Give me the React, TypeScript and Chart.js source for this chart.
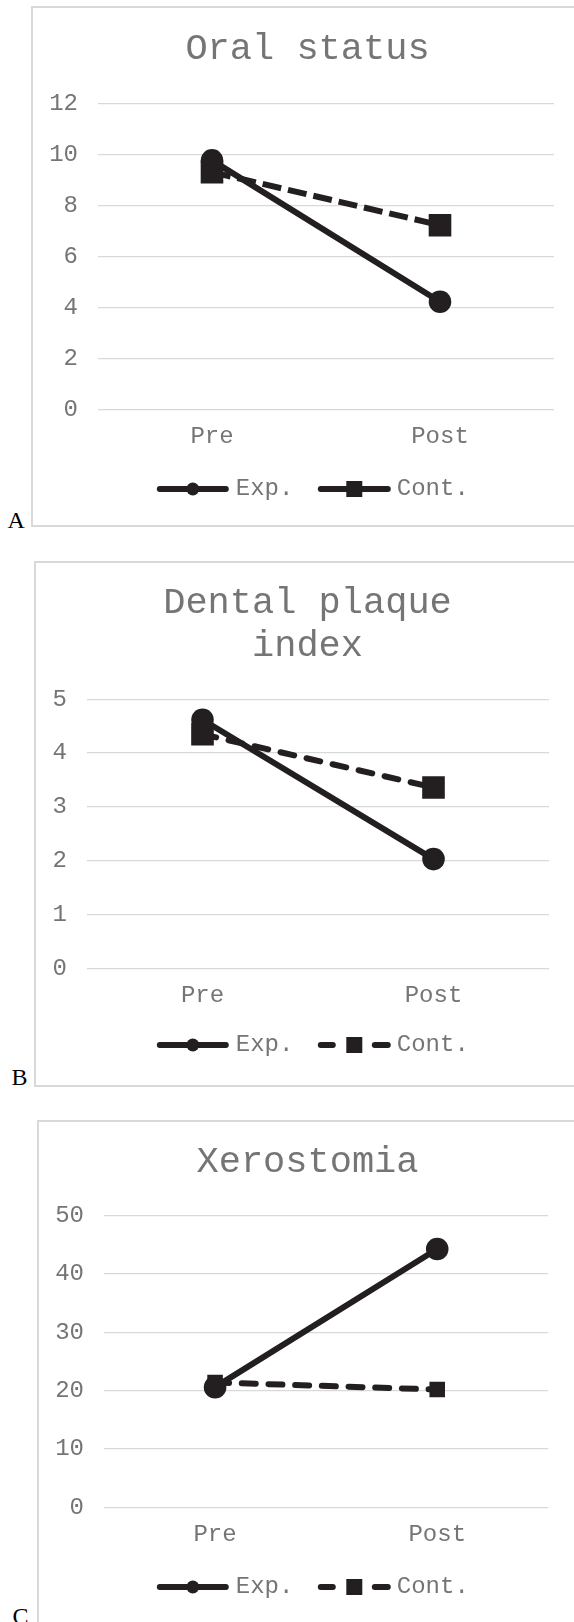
import React, { useEffect, useRef } from "react";
import { Chart, registerables } from "chart.js";

Chart.register(...registerables);

// ---- data -------------------------------------------------------------
const categories = ["Pre", "Post"];
const seriesLabels = ["Exp.", "Cont."];

// Oral status
const oralExp = [9.76, 4.22];
const oralCont = [9.3, 7.22];
const oralAxis = [0, 12, 2]; // min, max, step

// Dental plaque index
const plaqueExp = [4.62, 2.03];
const plaqueCont = [4.35, 3.36];
const plaqueAxis = [0, 5, 1];

// Xerostomia
const xeroExp = [20.6, 44.3];
const xeroCont = [21.4, 20.2];
const xeroAxis = [0, 50, 10];

// ---- styling ----------------------------------------------------------
const INK = "#231f20";
const TEXT = "#757575";
const GRID = "#d9d9d9";
const MONO = "'Liberation Mono', 'DejaVu Sans Mono', monospace";
const X_AXIS_H = 60;

type PanelSpec = {
  letter: string;
  letterPos: [number, number];
  title: string | string[];
  exp: number[];
  cont: number[];
  axis: number[];
  box: { left: number; top: number; width: number; height: number };
  area: { left: number; top: number; right: number; bottom: number };
  titlePad: { top: number; bottom: number };
  legendY: number;
  contDash: number[];
  contCap: "butt" | "round";
  contLegendDashed: boolean;
  contRadius: number;
};

const panels: PanelSpec[] = [
  {
    letter: "A",
    letterPos: [7.5, 527.6],
    title: "Oral status",
    exp: oralExp,
    cont: oralCont,
    axis: oralAxis,
    box: { left: 31, top: 6, width: 549, height: 517 },
    area: { left: 65, top: 95.3, right: 521, bottom: 401.3 },
    titlePad: { top: 20.3, bottom: 32.45 },
    legendY: 481,
    contDash: [19, 7],
    contCap: "butt",
    contLegendDashed: false,
    contRadius: 16,
  },
  {
    letter: "B",
    letterPos: [11.5, 1085],
    title: ["Dental plaque", "index"],
    exp: plaqueExp,
    cont: plaqueCont,
    axis: plaqueAxis,
    box: { left: 34, top: 561, width: 543, height: 522 },
    area: { left: 51, top: 136.3, right: 513, bottom: 405.3 },
    titlePad: { top: 19.0, bottom: 32.2 },
    legendY: 482,
    contDash: [14, 12.7],
    contCap: "round",
    contLegendDashed: true,
    contRadius: 16,
  },
  {
    letter: "C",
    letterPos: [12.5, 1624],
    title: "Xerostomia",
    exp: xeroExp,
    cont: xeroCont,
    axis: xeroAxis,
    box: { left: 37, top: 1120, width: 537, height: 520 },
    area: { left: 65, top: 93.7, right: 509.3, bottom: 385.3 },
    titlePad: { top: 18.6, bottom: 32.55 },
    legendY: 465,
    contDash: [14, 12.7],
    contCap: "round",
    contLegendDashed: true,
    contRadius: 11,
  },
];

// Legend entries laid out relative to the canvas centre: line start, line end, text x
const legendSlots = [
  [-150.7, -78.7, -71.7],
  [10.3, 83.3, 89.3],
];

const lineLegend = {
  id: "lineLegend",
  afterDraw(chart: any, _args: any, opts: any) {
    const ctx: CanvasRenderingContext2D = chart.ctx;
    const cx = chart.width / 2;
    const y = opts.y;
    ctx.save();
    chart.data.datasets.forEach((ds: any, i: number) => {
      const [a, b, t] = legendSlots[i];
      const x0 = cx + a;
      const x1 = cx + b;
      const mid = (x0 + x1) / 2;
      ctx.strokeStyle = INK;
      ctx.fillStyle = INK;
      ctx.lineWidth = 6;
      ctx.lineCap = "round";
      ctx.setLineDash([]);
      ctx.beginPath();
      if (i === 1 && opts.dashed) {
        ctx.moveTo(x0 + 3, y);
        ctx.lineTo(x0 + 15, y);
        ctx.moveTo(x1 - 16, y);
        ctx.lineTo(x1 - 3, y);
      } else {
        ctx.moveTo(x0 + 3, y);
        ctx.lineTo(x1 - 3, y);
      }
      ctx.stroke();
      ctx.beginPath();
      if (ds.pointStyle === "rect") {
        ctx.rect(mid - 8, y - 8, 16, 16);
      } else {
        ctx.arc(mid, y, 6.5, 0, Math.PI * 2);
      }
      ctx.fill();
      ctx.fillStyle = TEXT;
      ctx.font = `24px ${MONO}`;
      ctx.textBaseline = "middle";
      ctx.textAlign = "left";
      ctx.fillText(ds.label, cx + t, y);
    });
    ctx.restore();
  },
};

function Panel({ spec }: { spec: PanelSpec }) {
  const ref = useRef<HTMLCanvasElement | null>(null);

  useEffect(() => {
    if (!ref.current) return;
    const { box, area, axis } = spec;
    const rightGap = box.width - area.right;
    const chart = new Chart(ref.current, {
      type: "line",
      data: {
        labels: categories,
        datasets: [
          {
            label: seriesLabels[0],
            data: spec.exp,
            borderColor: INK,
            backgroundColor: INK,
            borderWidth: 6,
            borderCapStyle: "round",
            pointStyle: "circle",
            pointRadius: 11.3,
            pointBorderWidth: 0,
            pointBackgroundColor: INK,
            tension: 0,
          },
          {
            label: seriesLabels[1],
            data: spec.cont,
            borderColor: INK,
            backgroundColor: INK,
            borderWidth: 6,
            borderDash: spec.contDash,
            borderCapStyle: spec.contCap,
            pointStyle: "rect",
            pointRadius: spec.contRadius,
            pointBorderWidth: 0,
            pointBackgroundColor: INK,
            tension: 0,
          },
        ],
      },
      options: {
        animation: false,
        responsive: false,
        maintainAspectRatio: false,
        devicePixelRatio: 1,
        events: [],
        layout: {
          padding: {
            left: 0,
            top: 0,
            right: 0,
            bottom: box.height - area.bottom - X_AXIS_H,
          },
        },
        plugins: {
          legend: { display: false },
          tooltip: { enabled: false },
          title: {
            display: true,
            text: spec.title,
            color: TEXT,
            font: { family: MONO, size: 37, weight: "normal", lineHeight: 1.15 },
            padding: spec.titlePad,
          },
          lineLegend: { y: spec.legendY, dashed: spec.contLegendDashed },
        } as any,
        scales: {
          x: {
            offset: true,
            grid: { display: false },
            border: { display: false },
            ticks: {
              color: TEXT,
              font: { family: MONO, size: 24, lineHeight: 1.2 },
              padding: 4.7,
            },
            afterFit: (s: any) => {
              s.height = X_AXIS_H;
            },
          },
          y: {
            min: axis[0],
            max: axis[1],
            ticks: {
              stepSize: axis[2],
              color: TEXT,
              font: { family: MONO, size: 24, lineHeight: 1.2 },
              padding: 20,
            },
            grid: { color: GRID, lineWidth: 1.3, drawTicks: false },
            border: { display: false },
            afterFit: (s: any) => {
              s.width = area.left;
            },
          },
          // empty spacer on the right so the plot ends short of the frame
          // while the title stays centred on the whole panel
          spacer: {
            type: "linear",
            position: "right",
            grid: { display: false, drawTicks: false },
            border: { display: false },
            ticks: { display: false },
            afterFit: (s: any) => {
              s.width = rightGap;
            },
          },
        } as any,
      },
      plugins: [lineLegend],
    });
    return () => chart.destroy();
  }, [spec]);

  const { box } = spec;
  return (
    <>
      <div
        style={{
          position: "absolute",
          left: box.left,
          top: box.top,
          width: box.width,
          height: box.height,
          border: `2px solid ${GRID}`,
          background: "#fff",
        }}
      >
        <canvas
          ref={ref}
          width={box.width}
          height={box.height}
          style={{ display: "block", width: box.width, height: box.height }}
        />
      </div>
      <span
        style={{
          position: "absolute",
          left: spec.letterPos[0],
          top: spec.letterPos[1] - 20.1,
          font: "24px/24px 'Liberation Serif', 'Times New Roman', serif",
          color: "#000",
          whiteSpace: "nowrap",
        }}
      >
        {spec.letter}
      </span>
    </>
  );
}

export default function App() {
  return (
    <div
      style={{
        position: "absolute",
        left: 0,
        top: 0,
        width: 574,
        height: 1622,
        overflow: "hidden",
        background: "#fff",
      }}
    >
      {panels.map((p) => (
        <Panel key={p.letter} spec={p} />
      ))}
    </div>
  );
}
